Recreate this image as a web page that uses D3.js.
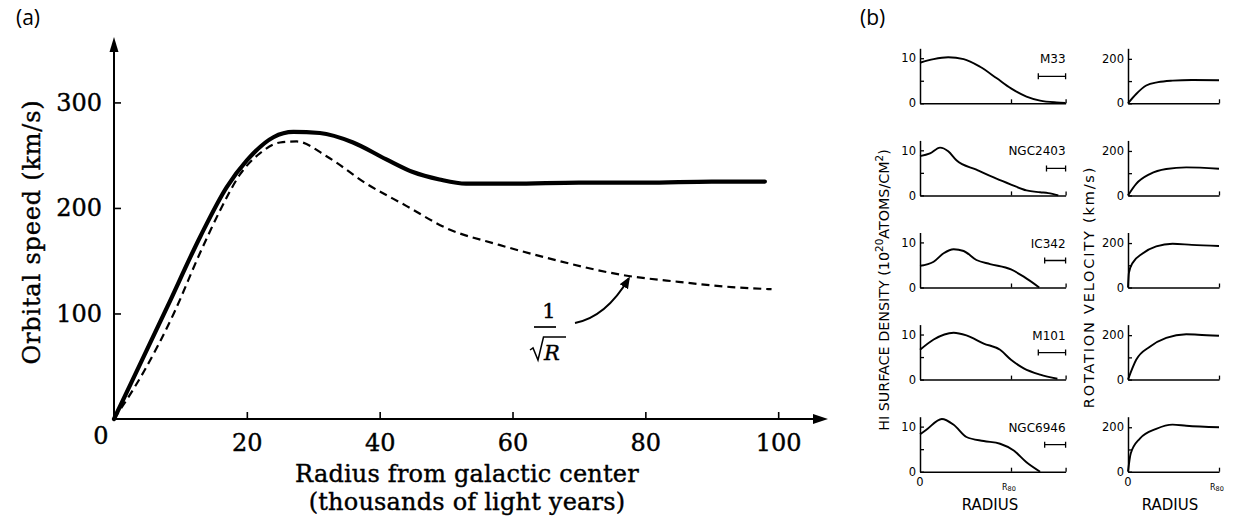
<!DOCTYPE html>
<html><head><meta charset="utf-8">
<script src="https://cdn.jsdelivr.net/npm/d3@7"></script>
<style>body{margin:0;background:#fff} svg{display:block}</style>
</head><body>
<script>
// ---------- Panel (a) data ----------
const observedRadius = [0,4,8,13,17,20,24,27,31,36,41,45,49,53,60,70,80,90,98];
const observedSpeed  = [0,53,106,173,220,245,267,272,271,262,246,234,227,223,223,224,224,225,225];
const keplerRadius   = [0,4.5,9,13,16,19,22,25,27.5,32,38,44,50,58,65,77,85,93,99];
const keplerSpeed    = [0,45,100,158,198,232,252,262,263,249,223,202,181,165,153,136,130,125,123];
const xTicksA = [20,40,60,80,100];
const yTicksA = [100,200,300];

// ---------- Panel (b) data ----------
const galaxies = ["M33","NGC2403","IC342","M101","NGC6946"];
const densityRadius = [
  [0,0.15,0.31,0.48,0.66,0.84,1.0,1.17,1.32,1.5,1.6],
  [0,0.11,0.22,0.31,0.40,0.62,0.84,1.0,1.17,1.32,1.41,1.52],
  [0,0.15,0.26,0.37,0.48,0.62,0.77,1.0,1.14,1.31],
  [0,0.15,0.37,0.51,0.70,0.88,1.0,1.14,1.32,1.51],
  [0,0.07,0.24,0.37,0.51,0.70,0.88,1.03,1.17,1.32]
];
const densityValue = [
  [9.0,9.8,10.2,9.8,8.1,5.6,3.3,1.5,0.6,0.2,0.1],
  [8.7,9.3,10.6,9.8,7.8,5.7,3.7,2.4,1.1,0.7,0.5,0],
  [4.8,5.7,7.6,8.5,8.1,6.1,5.2,4.0,2.4,0],
  [6.6,8.9,10.4,9.8,8.0,6.6,4.4,2.5,1.1,0.2],
  [8.3,9.3,11.7,10.4,7.7,6.8,6.2,4.7,2.1,0]
];
const velocityRadius = [
  [0,0.09,0.20,0.33,0.49,0.70,1.0],
  [0,0.09,0.24,0.42,0.64,1.0],
  [0,0.01,0.05,0.16,0.31,0.49,0.70,1.0],
  [0,0.09,0.24,0.42,0.64,0.77,1.0],
  [0,0.03,0.13,0.31,0.49,0.64,1.0]
];
const velocityValue = [
  [0,42,80,95,102,105,104],
  [0,52,96,119,126,120],
  [0,66,110,153,185,197,192,187],
  [0,89,148,188,204,202,197],
  [0,82,149,193,212,207,200]
];
const beamLength = [0.30,0.21,0.23,0.30,0.23];
const densityTicks = [0,5,10];
const velocityTicks = [0,100,200];

// ---------- Drawing ----------
const svg = d3.select("body").append("svg").attr("width",1238).attr("height",524);
const SERIF = "'DejaVu Serif',serif";
const SANS = "'DejaVu Sans',sans-serif";
const heavy = sel => sel.attr("stroke","#000").attr("stroke-width",0.4);

const defs = svg.append("defs");
defs.append("marker").attr("id","ah").attr("viewBox","0 0 10 10").attr("refX",8).attr("refY",5)
  .attr("markerWidth",12).attr("markerHeight",12).attr("markerUnits","userSpaceOnUse").attr("orient","auto")
  .append("path").attr("d","M0,1 L10,5 L0,9 Z").attr("fill","#000");

// Panel labels
svg.append("text").attr("x",16).attr("y",25).text("(a)")
  .attr("font-family","'Open Sans',sans-serif").attr("font-size",21).attr("fill","#000");
svg.append("text").attr("x",860).attr("y",25).text("(b)")
  .attr("font-family","'Open Sans',sans-serif").attr("font-size",21).attr("fill","#000");

// ---- Panel (a)
const xA = d3.scaleLinear().domain([0,107.5]).range([114,828]);
const yA = d3.scaleLinear().domain([0,362]).range([419,37]);
const gA = svg.append("g");

const xAxisA = gA.append("g").attr("transform",`translate(0,${yA(0)})`)
  .call(d3.axisBottom(xA).tickValues(xTicksA).tickSizeInner(-7).tickSizeOuter(0).tickPadding(15));
const yAxisA = gA.append("g").attr("transform",`translate(${xA(0)},0)`)
  .call(d3.axisLeft(yA).tickValues(yTicksA).tickSizeInner(-7).tickSizeOuter(0).tickPadding(12));
[xAxisA,yAxisA].forEach(g=>{
  g.select(".domain").remove();
  g.selectAll(".tick line").attr("stroke","#000").attr("stroke-width",1.6);
  heavy(g.selectAll(".tick text").attr("font-family",SERIF).attr("font-size",24).attr("fill","#000"));
});
gA.append("line").attr("x1",xA(0)).attr("y1",yA(0)).attr("x2",xA(107.5)-10).attr("y2",yA(0))
  .attr("stroke","#000").attr("stroke-width",2);
gA.append("path").attr("d",`M${xA(107.5)},${yA(0)} l-15,-5 l0,10 Z`).attr("fill","#000");
gA.append("line").attr("x1",xA(0)).attr("y1",yA(0)).attr("x2",xA(0)).attr("y2",yA(362)+10)
  .attr("stroke","#000").attr("stroke-width",2);
gA.append("path").attr("d",`M${xA(0)},${yA(362)} l-4.5,15 l9,0 Z`).attr("fill","#000");
heavy(gA.append("text").attr("x",101).attr("y",444).attr("text-anchor","middle").text("0")
  .attr("font-family",SERIF).attr("font-size",24).attr("fill","#000"));

const lineA = d3.line().x(d=>xA(d[0])).y(d=>yA(d[1])).curve(d3.curveMonotoneX);
gA.append("path").attr("d",lineA(d3.zip(keplerRadius,keplerSpeed)))
  .attr("fill","none").attr("stroke","#000").attr("stroke-width",2.2).attr("stroke-dasharray","8,5");
gA.append("path").attr("d",lineA(d3.zip(observedRadius,observedSpeed)))
  .attr("fill","none").attr("stroke","#000").attr("stroke-width",4.2).attr("stroke-linecap","round");

// axis titles
heavy(gA.append("text").attr("x",467).attr("y",482).attr("text-anchor","middle")
  .attr("font-family",SERIF).attr("font-size",24).attr("letter-spacing",0.2).attr("fill","#000")
  .text("Radius from galactic center"));
heavy(gA.append("text").attr("x",467).attr("y",510).attr("text-anchor","middle")
  .attr("font-family",SERIF).attr("font-size",24).attr("letter-spacing",0.2).attr("fill","#000")
  .text("(thousands of light years)"));
heavy(gA.append("text").attr("transform","translate(40,232) rotate(-90)").attr("text-anchor","middle")
  .attr("font-family",SERIF).attr("font-size",24).attr("letter-spacing",0.8).attr("fill","#000")
  .text("Orbital speed (km/s)"));

// 1/sqrt(R) annotation
heavy(gA.append("text").attr("x",549).attr("y",318).attr("text-anchor","middle")
  .attr("font-family",SERIF).attr("font-size",21).attr("fill","#000").text("1"));
gA.append("line").attr("x1",534).attr("x2",556).attr("y1",327).attr("y2",327).attr("stroke","#000").attr("stroke-width",1.7);
gA.append("path").attr("d","M530,350 L533,348 L538,360 L543.5,337 L566,337")
  .attr("fill","none").attr("stroke","#000").attr("stroke-width",1.5);
heavy(gA.append("text").attr("x",544).attr("y",360)
  .attr("font-family",SERIF).attr("font-size",21).attr("font-style","italic").attr("fill","#000").text("R"));
gA.append("path").attr("d",`M575,323 Q606,317 ${xA(77.5)},${yA(135)+2}`)
  .attr("fill","none").attr("stroke","#000").attr("stroke-width",2).attr("marker-end","url(#ah)");

// ---- Panel (b)
const xDen = d3.scaleLinear().domain([0,1.6]).range([920,1065.6]);
const xVel = d3.scaleLinear().domain([0,1]).range([1128,1219]);

galaxies.forEach((name,i)=>{
  const y0 = 103.3 + i*92.1;
  const yDen = d3.scaleLinear().domain([0,12.2]).range([y0,y0-55]);
  const yVel = d3.scaleLinear().domain([0,247.5]).range([y0,y0-55]);
  const g = svg.append("g");

  const styleAxis = ax=>{
    ax.select(".domain").attr("stroke","#000").attr("stroke-width",1.5);
    ax.selectAll(".tick line").attr("stroke","#000").attr("stroke-width",1.3);
    ax.selectAll(".tick text").attr("font-family",SANS).attr("font-size",11.5).attr("fill","#000");
  };
  styleAxis(g.append("g").attr("transform",`translate(0,${y0})`)
    .call(d3.axisBottom(xDen).tickValues([1,1.6]).tickSizeInner(-4).tickSizeOuter(0).tickFormat("")));
  styleAxis(g.append("g").attr("transform",`translate(${xDen(0)},0)`)
    .call(d3.axisLeft(yDen).tickValues(densityTicks).tickSizeInner(-4).tickSizeOuter(0).tickPadding(4)
      .tickFormat(d=>d===5?"":d)));
  styleAxis(g.append("g").attr("transform",`translate(0,${y0})`)
    .call(d3.axisBottom(xVel).tickValues([1]).tickSizeInner(-4).tickSizeOuter(0).tickFormat("")));
  styleAxis(g.append("g").attr("transform",`translate(${xVel(0)},0)`)
    .call(d3.axisLeft(yVel).tickValues(velocityTicks).tickSizeInner(-4).tickSizeOuter(0).tickPadding(4)
      .tickFormat(d=>d===100?"":d)));

  const lDen = d3.line().x(d=>xDen(d[0])).y(d=>yDen(d[1])).curve(d3.curveMonotoneX);
  const lVel = d3.line().x(d=>xVel(d[0])).y(d=>yVel(d[1])).curve(d3.curveMonotoneX);
  g.append("path").attr("d",lDen(d3.zip(densityRadius[i],densityValue[i])))
    .attr("fill","none").attr("stroke","#000").attr("stroke-width",1.9);
  g.append("path").attr("d",lVel(d3.zip(velocityRadius[i],velocityValue[i])))
    .attr("fill","none").attr("stroke","#000").attr("stroke-width",1.9);

  g.append("text").attr("x",xDen(1.6)).attr("y",y0-40).attr("text-anchor","end")
    .attr("font-family",SANS).attr("font-size",12).attr("fill","#000").text(name);
  const by = y0-27, bx1 = xDen(1.6-beamLength[i]), bx2 = xDen(1.6);
  g.append("path").attr("d",`M${bx1},${by}H${bx2}M${bx1},${by-3}V${by+3}M${bx2},${by-3}V${by+3}`)
    .attr("fill","none").attr("stroke","#000").attr("stroke-width",1.3);

  if(i===galaxies.length-1){
    [[xDen,0],[xVel,0]].forEach(([sc,v])=>{
      g.append("text").attr("x",sc(v)).attr("y",y0+14).attr("text-anchor","middle")
        .attr("font-family",SANS).attr("font-size",11.5).attr("fill","#000").text("0");
    });
    [xDen,xVel].forEach(sc=>{
      const t = g.append("text").attr("x",sc(1)-9).attr("y",y0+18)
        .attr("font-family",SANS).attr("font-size",8).attr("fill","#000");
      t.append("tspan").text("R");
      t.append("tspan").attr("font-size",6.5).attr("dy",1.5).text("80");
    });
    g.append("text").attr("x",990).attr("y",y0+38).attr("text-anchor","middle")
      .attr("font-family",SANS).attr("font-size",15).attr("fill","#000").text("RADIUS");
    g.append("text").attr("x",1170).attr("y",y0+38).attr("text-anchor","middle")
      .attr("font-family",SANS).attr("font-size",15).attr("fill","#000").text("RADIUS");
  }
});

// rotated titles panel (b)
const t1 = svg.append("text").attr("transform","translate(889,290) rotate(-90)").attr("text-anchor","middle")
  .attr("font-family",SANS).attr("font-size",14.3).attr("fill","#000");
t1.append("tspan").text("HI SURFACE DENSITY (10");
t1.append("tspan").attr("font-size",10.5).attr("dy",-6).text("20");
t1.append("tspan").attr("dy",6).text("ATOMS/CM");
t1.append("tspan").attr("font-size",10.5).attr("dy",-6).text("2");
t1.append("tspan").attr("dy",6).text(")");
svg.append("text").attr("transform","translate(1094,287) rotate(-90)").attr("text-anchor","middle")
  .attr("font-family",SANS).attr("font-size",14.5).attr("letter-spacing",1.8).attr("fill","#000").text("ROTATION VELOCITY (km/s)");
</script>
</body></html>
